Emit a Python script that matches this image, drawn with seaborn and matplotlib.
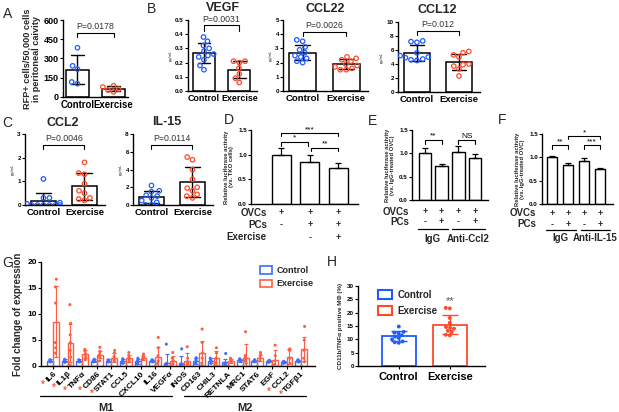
import numpy as np
import pandas as pd
import matplotlib
matplotlib.use('Agg')
import matplotlib.pyplot as plt
from matplotlib.patches import Patch
import seaborn as sns

# ---------------- data ----------------
groups = ['Control', 'Exercise']

# A: RFP+ cells / 50,000 cells
a_ctrl = [384, 243, 217, 117, 104]
a_exer = [88, 78, 62, 55, 40]

# B: cytokines (pg/mL)
vegf_ctrl = [0.38, 0.35, 0.32, 0.30, 0.28, 0.26, 0.25, 0.24, 0.22, 0.18, 0.15]
vegf_exer = [0.21, 0.21, 0.20, 0.16, 0.12, 0.09, 0.06]
ccl22_ctrl = [3.6, 3.5, 3.1, 2.9, 2.7, 2.5, 2.4, 2.3, 2.1, 2.0]
ccl22_exer = [2.4, 2.3, 2.2, 2.1, 1.9, 1.8, 1.7, 1.6, 1.5, 1.5]
ccl12_ctrl = [7.3, 7.2, 7.1, 5.6, 5.2, 5.0, 4.9, 4.7, 4.6, 4.5]
ccl12_exer = [5.8, 5.6, 5.3, 5.0, 4.0, 3.9, 3.7, 3.3, 2.3]

# C
ccl2_ctrl = [0, 0, 0, 0, 0, 0, 0.05, 0.1, 0.3, 0.3, 1.1]
ccl2_exer = [1.8, 1.35, 1.3, 0.9, 0.6, 0.5, 0.3, 0.25, 0.2]
il15_ctrl = [2.2, 1.6, 1.5, 1.1, 1.0, 0.8, 0.5, 0.3, 0.0, 0.0]
il15_exer = [5.4, 5.1, 4.0, 2.9, 2.0, 1.9, 1.6, 1.2, 1.0, 0.8]

# D/E/F: relative luciferase activity
d_means = [1.00, 0.85, 0.72]
d_err = [0.13, 0.14, 0.11]
d_rows = ['OVCs', 'PCs', 'Exercise']
d_marks = [['+', '+', '+'], ['-', '+', '+'], ['', '-', '+']]

e_means = [1.00, 0.72, 1.02, 0.89]
e_err = [0.11, 0.05, 0.14, 0.10]
e_rows = ['OVCs', 'PCs']
e_marks = [['+', '+', '+', '+'], ['-', '+', '-', '+']]
e_groups = ['IgG', 'Anti-Ccl2']

f_means = [1.00, 0.83, 0.93, 0.75]
f_err = [0.02, 0.04, 0.06, 0.02]
f_rows = ['OVCs', 'PCs']
f_marks = [['+', '+', '+', '+'], ['-', '+', '-', '+']]
f_groups = ['IgG', 'Anti-IL-15']

# G: fold change of expression
genes = ['IL6', 'IL1β', 'TNFα', 'CD86', 'STAT1', 'CCL5', 'CXCL10', 'IL16', 'VEGFα',
         'iNOS', 'CD163', 'CHIL3', 'RETNLA', 'MRC1', 'STAT6', 'EGF', 'CCL2', 'TGFβ1']
starred = ['IL6', 'IL1β', 'TNFα', 'CD86', 'STAT1', 'CCL2', 'TGFβ1']
g_ctrl_mean = [1.0, 1.0, 1.0, 1.0, 1.0, 0.9, 0.9, 1.0, 0.5, 0.5, 1.0, 1.0, 0.7, 1.1, 1.0, 0.9, 0.7, 1.0]
g_ctrl_sd = [0.3, 0.3, 0.3, 0.3, 0.3, 0.4, 0.5, 0.2, 1.8, 1.5, 0.6, 0.5, 0.6, 0.3, 0.2, 0.2, 0.2, 0.2]
g_exer_mean = [8.5, 4.4, 2.3, 2.2, 1.6, 1.5, 1.6, 1.7, 1.0, 1.0, 2.5, 1.5, 1.0, 1.5, 1.6, 1.1, 1.8, 3.2]
g_exer_sd = [6.8, 3.7, 0.7, 0.7, 0.9, 0.7, 0.4, 1.9, 1.0, 1.5, 2.4, 1.3, 0.4, 2.7, 0.6, 1.9, 1.4, 2.3]
g_ctrl_pts = [[1.2, 1.1, 1.0, 0.9, 0.8], [1.3, 1.1, 1.0, 0.8, 0.7], [1.2, 1.1, 1.0, 0.8],
              [1.3, 1.1, 1.0, 0.8], [1.2, 1.0, 0.9, 0.8], [1.4, 1.0, 0.8, 0.5],
              [1.5, 1.0, 0.7, 0.4], [1.2, 1.1, 1.0, 0.8], [4.2, 0.5, 0.3, 0.2, 0.1],
              [3.3, 0.4, 0.2, 0.1, 0.1], [1.6, 1.4, 1.0, 0.6, 0.4], [1.5, 1.2, 0.9, 0.5],
              [2.4, 0.6, 0.4, 0.3], [1.4, 1.2, 1.1, 0.9], [1.2, 1.1, 1.0, 0.8],
              [1.1, 1.0, 0.9, 0.7], [0.9, 0.8, 0.7, 0.5], [1.2, 1.1, 1.0, 0.8]]
g_exer_pts = [[16.7, 15.2, 12.1, 4.5, 3.5, 2.5], [11.8, 8.2, 6.0, 4.5, 3.0, 1.7, 0.2],
              [3.2, 2.8, 2.3, 1.8, 1.2], [3.6, 2.8, 2.2, 1.8, 1.0], [3.0, 2.5, 1.8, 1.2, 0.9],
              [2.6, 2.0, 1.6, 1.2, 0.8], [2.3, 2.0, 1.7, 1.3], [5.5, 3.5, 2.0, 1.0, 0.5],
              [2.6, 1.5, 1.0, 0.5, 0.2], [3.7, 1.5, 0.8, 0.4, 0.1], [7.1, 4.5, 2.5, 1.5, 0.5],
              [3.5, 2.5, 1.5, 0.6, 0.2], [1.5, 1.2, 1.0, 0.8], [6.6, 2.0, 1.5, 1.0, 0.5],
              [2.6, 2.2, 1.6, 1.0], [4.0, 2.0, 1.0, 0.3], [3.3, 3.1, 3.0, 1.5, 0.5],
              [7.6, 5.0, 3.0, 1.5, 0.8]]

# H: CD11b/TNFa positive macrophages (%)
h_ctrl = [14.8, 12.8, 12.5, 12.3, 11.5, 11.0, 10.5, 10.0, 9.2, 8.9, 8.7]
h_exer = [21.8, 21.6, 18.0, 16.2, 14.6, 14.4, 14.0, 13.2, 12.8, 11.7, 11.5]

BLUE = '#1f5bff'
RED = '#ff4a2a'
G_BLUE = '#3d6cff'
G_RED = '#ff5d42'

sns.set_theme(style='ticks')
plt.rcParams['font.family'] = ['Liberation Sans', 'DejaVu Sans']
plt.rcParams['font.weight'] = 'bold'
np.random.seed(3)

W, H = 619, 412
fig = plt.figure(figsize=(W / 100, H / 100), dpi=100)


def add_ax(l, t, r, b):
    return fig.add_axes([l / W, 1 - b / H, (r - l) / W, (b - t) / H])


def fig_text(x, y, s, **kw):
    fig.text(x / W, 1 - y / H, s, ha='center', va='center', **kw)


def style(ax, fs):
    sns.despine(ax=ax)
    for s in ['left', 'bottom']:
        ax.spines[s].set_linewidth(1.0)
        ax.spines[s].set_color('black')
    ax.tick_params(axis='both', length=2, width=0.8, labelsize=fs, pad=1, colors='black')
    ax.set_xlabel('')
    ax.set_ylabel('')


def bracket(ax, x0, x1, y, h, text, fs, gap, color='black', tcolor='black'):
    ax.plot([x0, x0, x1, x1], [y - h, y, y, y - h], color=color, lw=0.8, clip_on=False)
    ax.text((x0 + x1) / 2, y + gap, text, ha='center', va='bottom', fontsize=fs,
            color=tcolor, fontweight='normal', clip_on=False)


def dot_panel(rect, ctrl, exer, ymax, yticks, fmt, pval, br, tick_fs, xl_fs, xlim=(-0.45, 1.5)):
    ax = add_ax(*rect)
    df = pd.DataFrame({'group': ['Control'] * len(ctrl) + ['Exercise'] * len(exer),
                       'val': ctrl + exer})
    sns.barplot(data=df, x='group', y='val', order=groups, errorbar='sd', capsize=0.35,
                color='white', edgecolor='black', linewidth=1.1, width=0.62, saturation=1,
                err_kws={'color': 'black', 'linewidth': 1.0}, ax=ax)
    sns.swarmplot(data=df, x='group', y='val', hue='group', order=groups, hue_order=groups,
                  palette=[BLUE, RED], size=3.2, linewidth=0.9, legend=False, ax=ax)
    for coll in ax.collections:
        fc = coll.get_facecolors()
        coll.set_edgecolors(fc)
        coll.set_facecolors('none')
    ax.set_ylim(0, ymax)
    ax.set_xlim(*xlim)
    ax.set_yticks(yticks)
    ax.set_yticklabels([fmt.format(v) for v in yticks])
    style(ax, tick_fs)
    ax.tick_params(axis='x', labelsize=xl_fs, length=0, pad=2)
    y, h, gap = br
    bracket(ax, 0, 1, y, h, pval, 6.3, gap, tcolor='#333333')
    return ax


# ---------------- A ----------------
axA = dot_panel((63, 20, 128, 97), a_ctrl, a_exer, 600, [0, 150, 300, 450, 600], '{:g}',
                'P=0.0178', (496, 26, 22), 6.5, 6.9, xlim=(-0.4, 1.4))
axA.set_ylabel('RFP+ cells/50,000 cells\nin peritoneal caivity', fontsize=6.6,
               fontweight='bold', labelpad=2, linespacing=1.0)
fig_text(8, 14, 'A', fontsize=10, fontweight='normal')

# ---------------- B ----------------
ax = dot_panel((188, 20, 257, 91), vegf_ctrl, vegf_exer, 0.5, [0, 0.1, 0.2, 0.3, 0.4, 0.5],
               '{:.1f}', 'P=0.0031', (0.465, 0.04, 0.01), 4.5, 6.4)
ax.set_ylabel('pg/mL', fontsize=3, labelpad=2)
ax = dot_panel((283, 20, 368, 91), ccl22_ctrl, ccl22_exer, 5, [0, 1, 2, 3, 4, 5],
               '{:g}', 'P=0.0026', (4.18, 0.31, 0.12), 4.5, 6.8)
ax.set_ylabel('pg/mL', fontsize=3, labelpad=2)
ax = dot_panel((398, 22, 480, 92), ccl12_ctrl, ccl12_exer, 10, [0, 2, 4, 6, 8, 10],
               '{:g}', 'P=0.012', (8.75, 0.65, 0.25), 4.5, 6.8)
ax.set_ylabel('pg/mL', fontsize=3, labelpad=2)
fig_text(151, 9, 'B', fontsize=10, fontweight='normal')
fig_text(223, 8, 'VEGF', fontsize=9, fontweight='bold')
fig_text(325, 9, 'CCL22', fontsize=9, fontweight='bold')
fig_text(437, 10, 'CCL12', fontsize=9, fontweight='bold')

# ---------------- C ----------------
ax = dot_panel((25, 134, 105, 205), ccl2_ctrl, ccl2_exer, 3, [0, 1, 2, 3],
               '{:g}', 'P=0.0046', (2.53, 0.17, 0.07), 4.5, 6.8)
ax.set_ylabel('pg/mL', fontsize=3, labelpad=2)
ax = dot_panel((133, 134, 213, 205), il15_ctrl, il15_exer, 8, [0, 2, 4, 6, 8],
               '{:g}', 'P=0.0114', (6.75, 0.45, 0.2), 4.5, 6.8)
ax.set_ylabel('pg/mL', fontsize=3, labelpad=2)
fig_text(7, 123, 'C', fontsize=10, fontweight='normal')
fig_text(63, 123, 'CCL2', fontsize=9, fontweight='bold')
fig_text(167, 122, 'IL-15', fontsize=9, fontweight='bold')


# ---------------- D / E / F ----------------
def lum_panel(rect, means, errs, xlim, width, row_labels, marks, row_y, label_x, ylabel):
    ax = add_ax(*rect)
    x = np.arange(len(means))
    df = pd.DataFrame({'x': x, 'val': means})
    sns.barplot(data=df, x='x', y='val', color='white', edgecolor='black', linewidth=1.0,
                width=width, saturation=1, errorbar=None, ax=ax)
    ax.errorbar(x, means, yerr=[np.zeros(len(x)), errs], fmt='none', ecolor='black',
                elinewidth=0.9, capsize=2.5, capthick=0.9)
    ax.set_ylim(0, 1.5)
    ax.set_xlim(*xlim)
    ax.set_yticks([0, 0.5, 1.0, 1.5])
    ax.set_yticklabels(['0.0', '0.5', '1.0', '1.5'])
    style(ax, 4.5)
    ax.set_xticks([])
    ax.set_ylabel(ylabel, fontsize=4.2, fontweight='bold', labelpad=3, linespacing=1.0)
    tr = ax.get_xaxis_transform()
    for lab, row, y in zip(row_labels, marks, row_y):
        ax.text(label_x, y, lab, transform=tr, ha='right', va='center', fontsize=7,
                fontweight='bold', clip_on=False)
        for i, m in enumerate(row):
            ax.text(i, y, m, transform=tr, ha='center', va='center', fontsize=6.5,
                    fontweight='bold', clip_on=False)
    return ax


axD = lum_panel((251, 130, 358, 204), d_means, d_err, (-1.05, 2.68), 0.66, d_rows, d_marks,
                [-0.12, -0.28, -0.45], -0.5,
                'Relative luciferase activity\n(vs. TKO cells)')
bracket(axD, 0, 2, 1.44, 0.06, '***', 6, 0.0)
bracket(axD, 0, 0.95, 1.26, 0.08, '*', 6, 0.0)
bracket(axD, 1.05, 2, 1.14, 0.06, '**', 6, 0.0)
fig_text(229, 120, 'D', fontsize=10, fontweight='normal')


def group_lines(ax, spans, names, y_line, y_text):
    tr = ax.get_xaxis_transform()
    for (x0, x1), name in zip(spans, names):
        ax.plot([x0, x1], [y_line, y_line], color='black', lw=0.9, transform=tr, clip_on=False)
        ax.text((x0 + x1) / 2, y_text, name, transform=tr, ha='center', va='center',
                fontsize=7, fontweight='bold', clip_on=False)


axE = lum_panel((412, 130, 488, 200), e_means, e_err, (-0.78, 3.78), 0.75, e_rows, e_marks,
                [-0.17, -0.31], -0.95,
                'Relative luciferase activity\n(vs. IgG-treated OVC)')
group_lines(axE, [(-0.45, 1.35), (1.6, 3.6)], e_groups, -0.41, -0.55)
bracket(axE, 0, 1, 1.29, 0.08, '**', 6, 0.0)
bracket(axE, 2, 3, 1.29, 0.08, 'NS', 6, 0.0)
fig_text(373, 121, 'E', fontsize=10, fontweight='normal')

axF = lum_panel((542, 134, 613, 204), f_means, f_err, (-0.63, 3.8), 0.62, f_rows, f_marks,
                [-0.13, -0.29], -1.0,
                'Relative luciferase activity\n(vs. IgG-treated OVC)')
group_lines(axF, [(-0.4, 1.5), (1.8, 3.6)], f_groups, -0.37, -0.49)
bracket(axF, 0, 1, 1.26, 0.08, '**', 6, 0.0)
bracket(axF, 2, 3, 1.26, 0.08, '***', 6, 0.0)
bracket(axF, 1, 3, 1.45, 0.06, '*', 6, 0.0)
fig_text(502, 120, 'F', fontsize=10, fontweight='normal')

# ---------------- G ----------------
axG = add_ax(41, 262, 315, 366)
gdf = pd.DataFrame({'gene': genes * 2,
                    'group': ['Control'] * len(genes) + ['Exercise'] * len(genes),
                    'val': g_ctrl_mean + g_exer_mean})
sns.barplot(data=gdf, x='gene', y='val', hue='group', order=genes, hue_order=groups,
            palette=[G_BLUE, G_RED], fill=False, width=0.8, linewidth=1.0, errorbar=None,
            legend=False, ax=axG)
xg = np.arange(len(genes))
for off, m, s, c in [(-0.2, g_ctrl_mean, g_ctrl_sd, G_BLUE), (0.2, g_exer_mean, g_exer_sd, G_RED)]:
    m = np.array(m)
    s = np.array(s)
    axG.errorbar(xg + off, m, yerr=[np.minimum(s, m), s], fmt='none', ecolor=c,
                 elinewidth=0.8, capsize=1.5, capthick=0.8)
prows = [(g, 'Control', v) for g, pts in zip(genes, g_ctrl_pts) for v in pts]
prows += [(g, 'Exercise', v) for g, pts in zip(genes, g_exer_pts) for v in pts]
pdf = pd.DataFrame(prows, columns=['gene', 'group', 'val'])
sns.stripplot(data=pdf, x='gene', y='val', hue='group', order=genes, hue_order=groups,
              palette=[G_BLUE, G_RED], dodge=True, jitter=0.08, size=2.2, linewidth=0,
              legend=False, ax=axG)
axG.set_ylim(0, 20)
axG.set_xlim(-0.82, 17.95)
axG.set_yticks([0, 5, 10, 15, 20])
style(axG, 6)
axG.set_xticks(xg)
axG.set_xticklabels(genes, rotation=45, ha='right', rotation_mode='anchor', fontsize=6,
                    fontweight='bold')
axG.set_ylabel('Fold change of expression', fontsize=7, fontweight='bold', labelpad=3)
group_lines(axG, [(-0.92, 8.18), (9.0, 17.3)], ['M1', 'M2'], -0.29, -0.40)
for t in axG.texts:
    t.set_fontsize(8)
axG.legend(handles=[Patch(facecolor='white', edgecolor=G_BLUE, linewidth=1.2, label='Control'),
                    Patch(facecolor='white', edgecolor=G_RED, linewidth=1.2, label='Exercise')],
           loc='upper left', bbox_to_anchor=(0.77, 1.04), frameon=False,
           handlelength=1.3, handleheight=0.9, labelspacing=0.5, handletextpad=0.5,
           prop={'weight': 'bold', 'size': 6.5})
fig_text(8, 263, 'G', fontsize=10, fontweight='normal')

# ---------------- H ----------------
axH = add_ax(358, 286, 485, 366)
hdf = pd.DataFrame({'group': ['Control'] * len(h_ctrl) + ['Exercise'] * len(h_exer),
                    'val': h_ctrl + h_exer})
sns.barplot(data=hdf, x='group', y='val', hue='group', order=groups, hue_order=groups,
            palette=[BLUE, RED], fill=False, width=0.67, linewidth=1.3, errorbar=None,
            legend=False, ax=axH)
for i, (vals, c) in enumerate([(h_ctrl, BLUE), (h_exer, RED)]):
    axH.errorbar([i], [np.mean(vals)], yerr=[np.std(vals, ddof=1)], fmt='none', ecolor=c,
                 elinewidth=1.0, capsize=6, capthick=1.0)
sns.swarmplot(data=hdf, x='group', y='val', hue='group', order=groups, hue_order=groups,
              palette=[BLUE, RED], size=2.8, linewidth=0, legend=False, ax=axH)
axH.set_ylim(0, 30)
axH.set_xlim(-0.8, 1.69)
axH.set_yticks([0, 5, 10, 15, 20, 25, 30])
style(axH, 4.5)
axH.tick_params(axis='x', labelsize=8, length=2, pad=2)
axH.set_ylabel('CD11b/TNFα positive MΦ (%)', fontsize=4.5, fontweight='bold', labelpad=3)
axH.text(1, 24.4, '**', ha='center', va='center', fontsize=8, color='#555555',
         fontweight='normal')
axH.legend(handles=[Patch(facecolor='white', edgecolor=BLUE, linewidth=1.5, label='Control'),
                    Patch(facecolor='white', edgecolor=RED, linewidth=1.5, label='Exercise')],
           loc='upper left', bbox_to_anchor=(0.09, 1.06), frameon=False,
           handlelength=1.4, handleheight=1.0, labelspacing=0.6, handletextpad=0.6,
           prop={'weight': 'bold', 'size': 7})
fig_text(332, 262, 'H', fontsize=10, fontweight='normal')

# red markers in front of the significant gene labels
fig.canvas.draw()
renderer = fig.canvas.get_renderer()
for lab in axG.get_xticklabels():
    if lab.get_text() in starred:
        bb = lab.get_window_extent(renderer)
        fig.text((bb.x0 - 2) / W, (bb.y0 - 1) / H, '*', color=G_RED, fontsize=7,
                 ha='center', va='center')

fig.savefig('out.png', dpi=100)
